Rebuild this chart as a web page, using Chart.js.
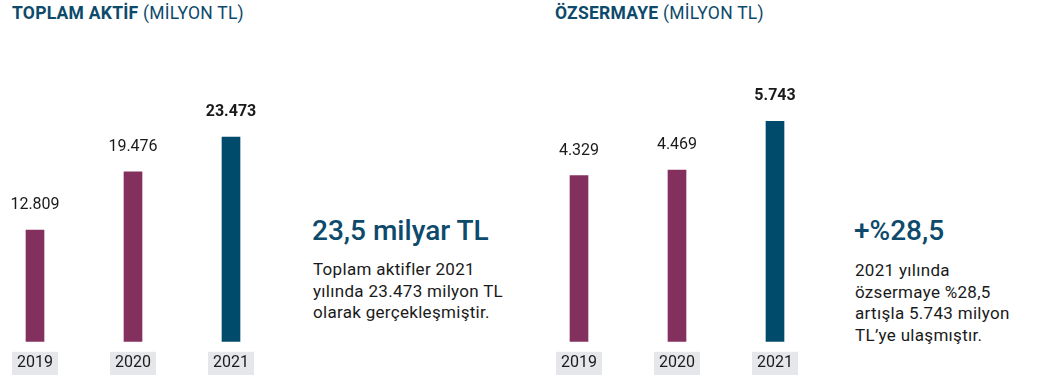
<!DOCTYPE html>
<html lang="tr">
<head>
<meta charset="utf-8">
<script src="https://cdn.jsdelivr.net/npm/chart.js@4/dist/chart.umd.min.js"></script>
<style>
    body { margin: 0; background: #fff; font-family: Roboto, sans-serif; }
    #page { position: relative; width: 1039px; height: 378px; overflow: hidden; }
    canvas { position: absolute; top: 0; }
    .title { position: absolute; top: 3px; font-size: 17.5px; letter-spacing: 0.25px; color: #0d4a6b; white-space: nowrap; }
    .title b { font-weight: 700; }
    .big { position: absolute; font-size: 28px; font-weight: 500; color: #0d4a6b; white-space: nowrap; }
    .note { position: absolute; font-size: 17px; letter-spacing: 0.3px; line-height: 21.7px; color: #1a1a1a; white-space: nowrap; }
</style>
</head>
<body>
<div id="page">
    <div class="title" style="left:12px"><b>TOPLAM AKTİF</b> (MİLYON TL)</div>
    <div class="title" style="left:555px"><b>ÖZSERMAYE</b> (MİLYON TL)</div>

    <canvas id="chart-aktif" width="294" height="378" style="left:-14px"></canvas>
    <canvas id="chart-ozsermaye" width="294" height="378" style="left:530px"></canvas>

    <div class="big" style="left:312px; top:214px">23,5 milyar TL</div>
    <div class="note" style="left:313px; top:259px">Toplam aktifler 2021<br>yılında 23.473 milyon TL<br>olarak gerçekleşmiştir.</div>

    <div class="big" style="left:854px; top:214px">+%28,5</div>
    <div class="note" style="left:855px; top:260px">2021 yılında<br>özsermaye %28,5<br>artışla 5.743 milyon<br>TL’ye ulaşmıştır.</div>
</div>
<script>
const yillar = ["2019", "2020", "2021"];
const toplamAktif = [12809, 19476, 23473];
const ozsermaye = [4329, 4469, 5743];

const MOR = "#84305f";
const LACIVERT = "#004b6b";

function binlik(v) {
    return String(v).replace(/\B(?=(\d{3})+(?!\d))/g, ".");
}

const degerEtiketleri = {
    id: "degerEtiketleri",
    afterDatasetsDraw(chart) {
        const ctx = chart.ctx;
        const meta = chart.getDatasetMeta(0);
        const veri = chart.data.datasets[0].data;
        meta.data.forEach((bar, i) => {
            const son = i === veri.length - 1;
            ctx.save();
            ctx.font = (son ? "700 " : "400 ") + "16px Roboto";
            ctx.fillStyle = "#1a1a1a";
            ctx.textAlign = "center";
            ctx.textBaseline = "middle";
            ctx.fillText(binlik(veri[i]), bar.x, bar.y - 25);
            ctx.restore();
        });
    }
};

function grafikCiz(id, degerler, ustSinir, ustBosluk) {
    new Chart(document.getElementById(id), {
        type: "bar",
        data: {
            labels: yillar,
            datasets: [{
                data: degerler,
                backgroundColor: degerler.map((_, i) => i === degerler.length - 1 ? LACIVERT : MOR),
                borderWidth: 0,
                barThickness: 18
            }]
        },
        options: {
            responsive: false,
            animation: false,
            layout: { padding: { top: ustBosluk, bottom: 1 } },
            plugins: { legend: { display: false }, tooltip: { enabled: false } },
            scales: {
                x: {
                    grid: { display: false },
                    border: { display: false },
                    ticks: {
                        color: "#1a1a1a",
                        font: { family: "Roboto", size: 16 },
                        padding: 4,
                        showLabelBackdrop: true,
                        backdropColor: "#e6e7eb",
                        backdropPadding: { top: 2, bottom: 2, left: 5, right: 5 }
                    }
                },
                y: { display: false, min: 0, max: ustSinir }
            }
        },
        plugins: [degerEtiketleri]
    });
}

grafikCiz("chart-aktif", toplamAktif, 30000, 80);
grafikCiz("chart-ozsermaye", ozsermaye, 7000, 73);
</script>
</body>
</html>
